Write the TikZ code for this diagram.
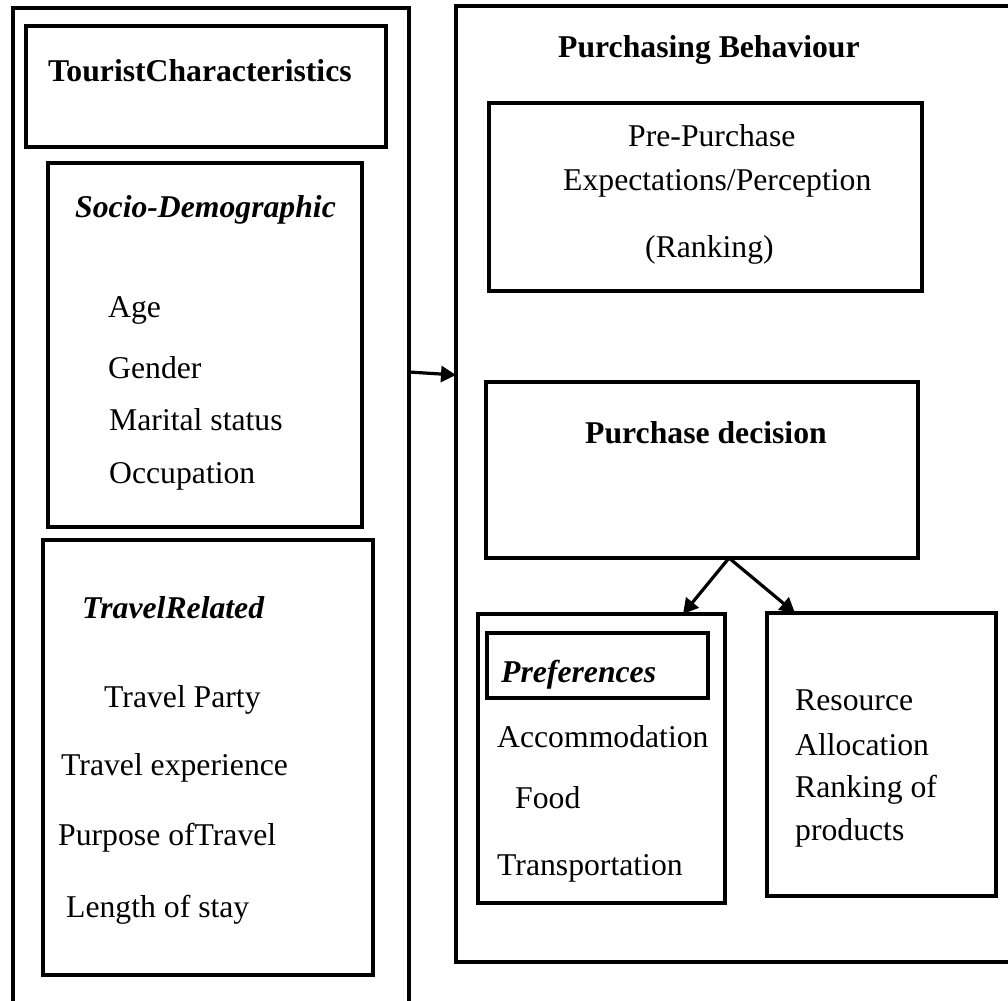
\documentclass[tikz,border=0pt]{standalone}
\usepackage{fontspec}
\setmainfont{Liberation Serif}
\usetikzlibrary{arrows.meta}
\begin{document}
\begin{tikzpicture}[x=1pt,y=-1pt,
  box/.style={draw=black,line width=3.5pt,rectangle,inner sep=0pt,outer sep=0pt},
  txt/.style={anchor=base west,inner sep=0pt,font=\fontsize{31.7}{36}\selectfont},
  btxt/.style={txt,font=\fontsize{31.7}{36}\selectfont\bfseries},
  bitxt/.style={txt,font=\fontsize{31.7}{36}\selectfont\bfseries\itshape},
  arr/.style={line width=3.2pt,-{Triangle[length=15pt,width=16pt]}}]
\useasboundingbox (0,0) rectangle (1008,1000);
\clip (0,0) rectangle (1008,1000);
% boxes
\node[box,minimum width=396pt,minimum height=1022pt] (leftouter) at (211,519) {};
\node[box,minimum width=360pt,minimum height=121pt] (tourist) at (206,86.5) {};
\node[box,minimum width=314pt,minimum height=364pt] (socio) at (205,345) {};
\node[box,minimum width=330pt,minimum height=435pt] (travel) at (208,757.5) {};
\node[box,minimum width=574pt,minimum height=956pt] (rightouter) at (743,484) {};
\node[box,minimum width=433pt,minimum height=188pt] (pre) at (705.5,197) {};
\node[box,minimum width=432pt,minimum height=176pt] (decision) at (702,470) {};
\node[box,minimum width=247pt,minimum height=289pt] (pref) at (601.5,758.5) {};
\node[box,minimum width=221pt,minimum height=65pt] (prefhead) at (597.5,665.5) {};
\node[box,minimum width=229pt,minimum height=283pt] (res) at (881.5,754.5) {};
% texts left
\node[btxt] (t1) at (48,82) {TouristCharacteristics};
\node[bitxt] (t2) at (75,218) {Socio-Demographic};
\node[txt] (t3) at (108,317) {Age};
\node[txt] (t4) at (108,378) {Gender};
\node[txt] (t5) at (109,430) {Marital status};
\node[txt] (t6) at (109,483) {Occupation};
\node[bitxt] (t7) at (82,618) {TravelRelated};
\node[txt] (t8) at (104,707) {Travel Party};
\node[txt] (t9) at (61,775) {Travel experience};
\node[txt] (t10) at (58,845) {Purpose ofTravel};
\node[txt] (t11) at (66,917) {Length of stay};
% texts right
\node[btxt] (r1) at (558,58) {Purchasing Behaviour};
\node[txt] (r2) at (628,147) {Pre-Purchase};
\node[txt] (r3) at (563,191) {Expectations/Perception};
\node[txt] (r4) at (645,257) {(Ranking)};
\node[btxt] (r5) at (585,443) {Purchase decision};
\node[bitxt] (r6) at (501,682) {Preferences};
\node[txt] (r7) at (497,747) {Accommodation};
\node[txt] (r8) at (515,808) {Food};
\node[txt] (r9) at (497,875) {Transportation};
\node[txt] (r10) at (795,710) {Resource};
\node[txt] (r11) at (795,755) {Allocation};
\node[txt] (r12) at (795,797) {Ranking of};
\node[txt] (r13) at (795,840) {products};
% arrows
\draw[arr] ([yshift=147pt]leftouter.east) -- ([yshift=109pt]rightouter.west);
\draw[arr] ([xshift=27pt]decision.south) -- ([xshift=81.5pt]pref.north);
\draw[arr] ([xshift=27pt]decision.south) -- ([xshift=-86.5pt]res.north);
\end{tikzpicture}
\end{document}
